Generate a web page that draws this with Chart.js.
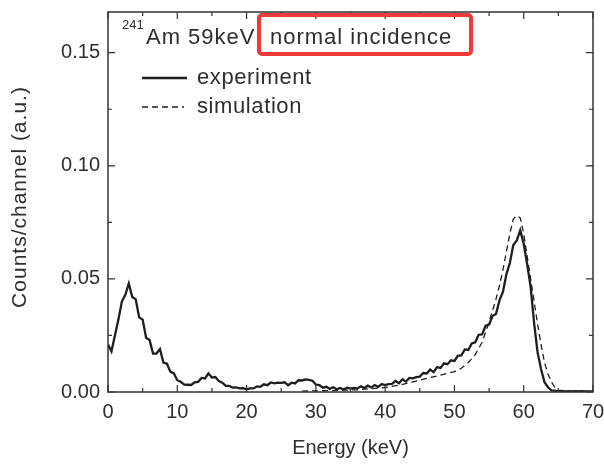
<!DOCTYPE html>
<html>
<head>
<meta charset="utf-8">
<script src="https://cdn.jsdelivr.net/npm/chart.js@4"></script>
<style>
  html, body { margin: 0; padding: 0; background: #fff; }
  #wrap { width: 604px; height: 464px; }
</style>
</head>
<body>
<div id="wrap"><canvas id="spec" width="604" height="464"></canvas></div>
<script>
// experiment: one value every 0.5 keV, starting at 0 keV
const expStep = 0.5;
const expCounts = [
  0.021, 0.018, 0.025, 0.032, 0.040, 0.043, 0.048, 0.042, 0.041, 0.033,
  0.032, 0.024, 0.023, 0.017, 0.017, 0.019, 0.013, 0.0125, 0.009, 0.0082,
  0.0052, 0.0045, 0.0033, 0.0032, 0.0031, 0.0043, 0.0045, 0.0062, 0.006, 0.0082,
  0.0064, 0.0066, 0.0048, 0.0041, 0.0027, 0.0027, 0.0019, 0.002, 0.0016, 0.0017,
  0.0012, 0.0016, 0.0016, 0.0025, 0.0023, 0.0034, 0.003, 0.0042, 0.0038, 0.0041,
  0.004, 0.0043, 0.003, 0.0041, 0.0038, 0.0052, 0.0051, 0.0056, 0.0054, 0.005,
  0.0033, 0.0031, 0.0019, 0.0023, 0.0014, 0.0021, 0.0012, 0.0018, 0.0011, 0.0019,
  0.0015, 0.0018, 0.0016, 0.0025, 0.0018, 0.0028, 0.002, 0.0031, 0.0023, 0.0035,
  0.0031, 0.0035, 0.0036, 0.0049, 0.0039, 0.0056, 0.0046, 0.0062, 0.006, 0.0066,
  0.0068, 0.0084, 0.0082, 0.0099, 0.0088, 0.011, 0.0106, 0.0127, 0.0123, 0.014,
  0.0137, 0.016, 0.0162, 0.0188, 0.0186, 0.0215, 0.022, 0.0253, 0.0255, 0.0293,
  0.0298, 0.0336, 0.0345, 0.0405, 0.0442, 0.052, 0.057, 0.065, 0.067, 0.0715,
  0.0655, 0.0565, 0.0465, 0.0305, 0.0175, 0.0102, 0.0043, 0.0021, 0.0007, 0.0006,
  0.0003, 0.0005, 0.0003, 0.0004, 0.0003, 0.0004, 0.0003, 0.0004, 0.0003, 0.0003,
  0.0003
];

// simulation
const simEnergy = [28, 30, 32, 34, 36, 38, 40, 42, 44, 46, 48, 50, 51, 52, 53, 54, 55, 56, 56.5, 57,
  57.5, 58, 58.5, 59, 59.5, 60, 60.5, 61, 61.5, 62, 62.5, 63, 63.5, 64, 64.5, 65, 66, 70];
const simCounts = [0.0004, 0.0005, 0.0006, 0.0008, 0.001, 0.0015, 0.002, 0.003, 0.0045, 0.006, 0.0075, 0.009, 0.0105, 0.013, 0.0165, 0.022, 0.031, 0.041, 0.047, 0.054,
  0.062, 0.070, 0.0765, 0.078, 0.077, 0.070, 0.060, 0.050, 0.040, 0.030, 0.021, 0.013, 0.008, 0.0045, 0.002, 0.0008, 0.0003, 0.0002];

const xTicks = [0, 10, 20, 30, 40, 50, 60, 70];
const yTicks = [0, 0.05, 0.10, 0.15];
const seriesNames = ['experiment', 'simulation'];
const yTitle = 'Counts/channel (a.u.)';

const ink = '#1e1e1e';
const textCol = '#2e2e2e';
const FONT = '"Liberation Sans", Arial, sans-serif';

const expPoints = expCounts.map((v, i) => ({ x: i * expStep, y: v }));
const simPoints = simEnergy.map((e, i) => ({ x: e, y: simCounts[i] }));

// frame, inward ticks (all four sides), legend, y title and the label text
const decorations = {
    id: 'decorations',
    afterDraw(chart) {
        const { ctx, chartArea: a, scales: { x, y } } = chart;
        ctx.save();
        ctx.strokeStyle = '#333';
        ctx.lineWidth = 1.5;
        ctx.strokeRect(a.left, a.top, a.right - a.left, a.bottom - a.top);

        ctx.lineWidth = 1.2;
        ctx.beginPath();
        const xt = x.ticks.map(t => t.value);
        xt.forEach((v, i) => {
            const px = x.getPixelForValue(v);
            ctx.moveTo(px, a.bottom); ctx.lineTo(px, a.bottom - 7);
            ctx.moveTo(px, a.top); ctx.lineTo(px, a.top + 7);
            if (i < xt.length - 1) {
                const mx = x.getPixelForValue((v + xt[i + 1]) / 2);
                ctx.moveTo(mx, a.bottom); ctx.lineTo(mx, a.bottom - 4);
                ctx.moveTo(mx, a.top); ctx.lineTo(mx, a.top + 4);
            }
        });
        const yt = y.ticks.map(t => t.value);
        yt.forEach((v, i) => {
            const py = y.getPixelForValue(v);
            ctx.moveTo(a.left, py); ctx.lineTo(a.left + 7, py);
            ctx.moveTo(a.right, py); ctx.lineTo(a.right - 7, py);
            const nv = i < yt.length - 1 ? (v + yt[i + 1]) / 2 : v + 0.025;
            if (nv < y.max) {
                const my = y.getPixelForValue(nv);
                ctx.moveTo(a.left, my); ctx.lineTo(a.left + 4, my);
                ctx.moveTo(a.right, my); ctx.lineTo(a.right - 4, my);
            }
        });
        ctx.stroke();

        // y axis title (drawn here to allow letter spacing)
        ctx.save();
        ctx.translate(20, 197);
        ctx.rotate(-Math.PI / 2);
        ctx.fillStyle = textCol;
        ctx.font = '21px ' + FONT;
        ctx.letterSpacing = '1px';
        ctx.textAlign = 'center';
        ctx.textBaseline = 'middle';
        ctx.fillText(yTitle, 0, 0);
        ctx.restore();

        // legend
        const ds = chart.data.datasets;
        const rows = [78, 107];
        ds.forEach((d, i) => {
            ctx.beginPath();
            ctx.strokeStyle = d.borderColor;
            ctx.lineWidth = i === 0 ? 2.4 : 1.4;
            ctx.setLineDash(d.borderDash || []);
            ctx.moveTo(142, rows[i]);
            ctx.lineTo(i === 0 ? 187 : 184, rows[i]);
            ctx.stroke();
            ctx.setLineDash([]);
            ctx.fillStyle = textCol;
            ctx.font = '22px ' + FONT;
            ctx.letterSpacing = '0.6px';
            ctx.textBaseline = 'middle';
            ctx.fillText(d.label, 197, rows[i]);
        });

        // label with isotope
        ctx.textBaseline = 'alphabetic';
        ctx.fillStyle = textCol;
        ctx.letterSpacing = '0px';
        ctx.font = '13px ' + FONT;
        ctx.fillText('241', 122, 29);
        ctx.font = '22px ' + FONT;
        ctx.letterSpacing = '1px';
        ctx.fillText('Am 59keV', 146, 44);
        ctx.fillText('normal incidence', 270, 44);
        ctx.letterSpacing = '0px';

        ctx.strokeStyle = '#f03a3a';
        ctx.lineWidth = 4;
        ctx.beginPath();
        ctx.roundRect(259, 15, 212, 39, 3);
        ctx.stroke();
        ctx.restore();
    }
};

new Chart(document.getElementById('spec'), {
    type: 'line',
    data: {
        datasets: [
            { label: seriesNames[0], data: expPoints, borderColor: ink, borderWidth: 2.3, pointRadius: 0, tension: 0, fill: false },
            { label: seriesNames[1], data: simPoints, borderColor: ink, borderWidth: 1.3, borderDash: [6, 4], pointRadius: 0, tension: 0, fill: false }
        ]
    },
    options: {
        responsive: false,
        animation: false,
        layout: { padding: { top: 12, right: 11, left: 0, bottom: 0 } },
        plugins: { legend: { display: false }, tooltip: { enabled: false } },
        scales: {
            x: {
                type: 'linear', min: 0, max: 70,
                afterBuildTicks: s => { s.ticks = xTicks.map(v => ({ value: v })); },
                afterFit: s => { s.height = 72; s.paddingLeft = 0; s.paddingRight = 0; },
                grid: { display: false, drawTicks: false },
                border: { display: false },
                ticks: { padding: 8, color: textCol, font: { family: FONT, size: 20 }, maxRotation: 0 },
                title: { display: true, text: 'Energy (keV)', color: textCol, font: { family: FONT, size: 20 }, padding: { top: 0, bottom: 4 } }
            },
            y: {
                type: 'linear', min: 0, max: 0.168,
                afterBuildTicks: s => { s.ticks = yTicks.map(v => ({ value: v })); },
                afterFit: s => { s.width = 108; s.paddingTop = 0; s.paddingBottom = 0; },
                grid: { display: false, drawTicks: false },
                border: { display: false },
                ticks: { padding: 8, color: textCol, font: { family: FONT, size: 20 }, callback: v => v.toFixed(2) }
            }
        }
    },
    plugins: [decorations]
});
</script>
</body>
</html>
